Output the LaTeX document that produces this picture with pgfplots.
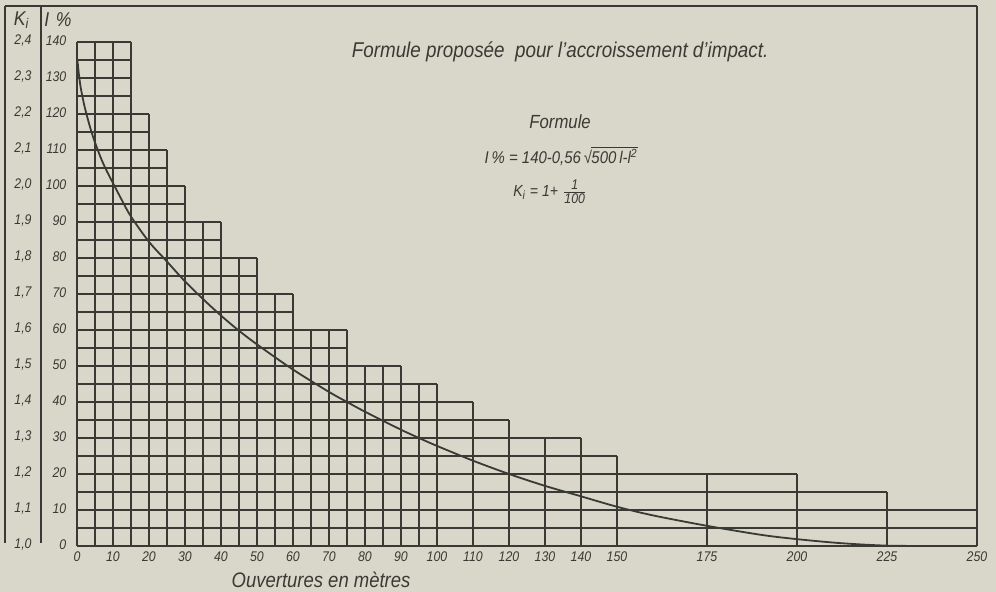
\documentclass[border=0pt]{standalone}
\usepackage{pgfplots}
\pgfplotsset{compat=1.18}
\usepackage{fontspec}
\setmainfont{Liberation Sans}[FakeStretch=0.88]
\usetikzlibrary{backgrounds}
\definecolor{paper}{RGB}{217,215,201}
\definecolor{ink}{RGB}{58,58,52}
\begin{document}
\begin{tikzpicture}[font=\itshape\fontsize{7}{7.5}\selectfont]
\begin{axis}[
  x=1.8pt, y=1.8pt, hide axis, clip=false,
  xmin=0, xmax=250, ymin=0, ymax=150,
]
% vertical grid lines (x, height)
\addplot[ink, ycomb, line width=0.55pt, mark=none] table {
x h
0 140
5 140
10 140
15 140
20 120
25 110
30 100
35 90
40 90
45 80
50 80
55 70
60 70
65 60
70 60
75 60
80 50
85 50
90 50
95 45
100 45
110 40
120 35
130 30
140 30
150 25
175 20
200 20
225 15
250 150
};
% horizontal grid lines (length, level)
\addplot[ink, xcomb, line width=0.55pt, mark=none] table {
w y
250 0
250 5
250 10
225 15
200 20
150 25
140 30
120 35
110 40
100 45
90 50
75 55
75 60
60 65
60 70
50 75
50 80
40 85
40 90
30 95
30 100
25 105
25 110
20 115
20 120
15 125
15 130
15 135
15 140
};
% curve I%
\addplot[ink, smooth, tension=0.5, line width=0.9pt, mark=none] coordinates {
(0,135.5) (0.25,133.7) (0.5,131.2) (1,127.5) (1.5,124.9) (2,122.5) (3,118.6)
(4,115.1) (5,112.1) (6.5,108.1) (8,104.7) (10,100.8) (12.5,96.0) (15,91.5)
(20,84.5) (25,79.0) (30,73.5) (35,68.6) (40,64.0) (45,59.8) (50,56.0)
(60,49.0) (70,42.8) (75,40.0) (80,37.3) (90,32.3) (95,30.0) (100,27.8)
(110,23.7) (120,20.0) (130,16.7) (140,13.8) (150,10.9) (160,8.5)
(175,5.6) (190,3.1) (200,1.9) (212,0.8) (225,0.1) (240,0) (250,0)
};
% frame
\draw[ink, line width=0.7pt] (axis cs:-20,150) -- (axis cs:250,150);
\draw[ink, line width=0.7pt] (axis cs:-20,150) -- (axis cs:-20,0.8);
\draw[ink, line width=0.7pt] (axis cs:-10,150) -- (axis cs:-10,0.8);
% headers
\node[ink, font=\itshape\fontsize{10}{11}\selectfont] at (axis cs:-15.4,146.1) {K\textsubscript{i}};
\node[ink, font=\itshape\fontsize{10}{11}\selectfont] at (axis cs:-5.3,146.1) {I\,\,\%};
% I% tick labels
\pgfplotsinvokeforeach{0,10,20,30,40,50,60,70,80,90,100,110,120,130,140}{
  \node[ink, anchor=east] at (axis cs:-1.0,#1+0.5) {#1};
}
% K tick labels
\node[ink] at (axis cs:-15.0,0.5) {1,0};
\node[ink] at (axis cs:-15.0,10.5) {1,1};
\node[ink] at (axis cs:-15.0,20.5) {1,2};
\node[ink] at (axis cs:-15.0,30.5) {1,3};
\node[ink] at (axis cs:-15.0,40.5) {1,4};
\node[ink] at (axis cs:-15.0,50.5) {1,5};
\node[ink] at (axis cs:-15.0,60.5) {1,6};
\node[ink] at (axis cs:-15.0,70.5) {1,7};
\node[ink] at (axis cs:-15.0,80.5) {1,8};
\node[ink] at (axis cs:-15.0,90.5) {1,9};
\node[ink] at (axis cs:-15.0,100.5) {2,0};
\node[ink] at (axis cs:-15.0,110.5) {2,1};
\node[ink] at (axis cs:-15.0,120.5) {2,2};
\node[ink] at (axis cs:-15.0,130.5) {2,3};
\node[ink] at (axis cs:-15.0,140.5) {2,4};
% x tick labels
\pgfplotsinvokeforeach{0,10,20,30,40,50,60,70,80,90,100,110,120,130,140,150,175,200,225,250}{
  \node[ink] at (axis cs:#1,-3.1) {#1};
}
% axis label
\node[ink, font=\itshape\fontsize{10.5}{11}\selectfont] at (axis cs:67.8,-9.4) {Ouvertures en mètres};
% title and formula
\node[ink, font=\itshape\fontsize{10.7}{11}\selectfont] at (axis cs:134.2,137.4) {Formule proposée \ pour l'accroissement d'impact.};
\node[ink, font=\itshape\fontsize{9.5}{10}\selectfont, inner sep=1pt] at (axis cs:134.2,117.8) {Formule};
\node[ink, font=\itshape\fontsize{8.5}{9}\selectfont, inner sep=1pt] at (axis cs:134.5,108.3)
  {I\,\% = 140-0,56\,{\upshape√}\kern-0.3pt\vbox{\hrule height 0.45pt\kern0.6pt\hbox{500\,l-l\textsuperscript{2}}}};
\node[ink, font=\itshape\fontsize{8}{8.5}\selectfont, inner sep=1pt] at (axis cs:131.5,98.4)
  {K\textsubscript{i} = 1+ $\frac{\hbox{\itshape\fontsize{7}{7}\selectfont 1}}{\hbox{\itshape\fontsize{7}{7}\selectfont 100}}$};
\coordinate (bl) at (axis cs:-21.39,-12.78);
\coordinate (tr) at (axis cs:255.28,151.67);
\end{axis}
\pgfresetboundingbox
\begin{scope}[on background layer]
\fill[paper] (bl) rectangle (tr);
\end{scope}
\end{tikzpicture}
\end{document}
